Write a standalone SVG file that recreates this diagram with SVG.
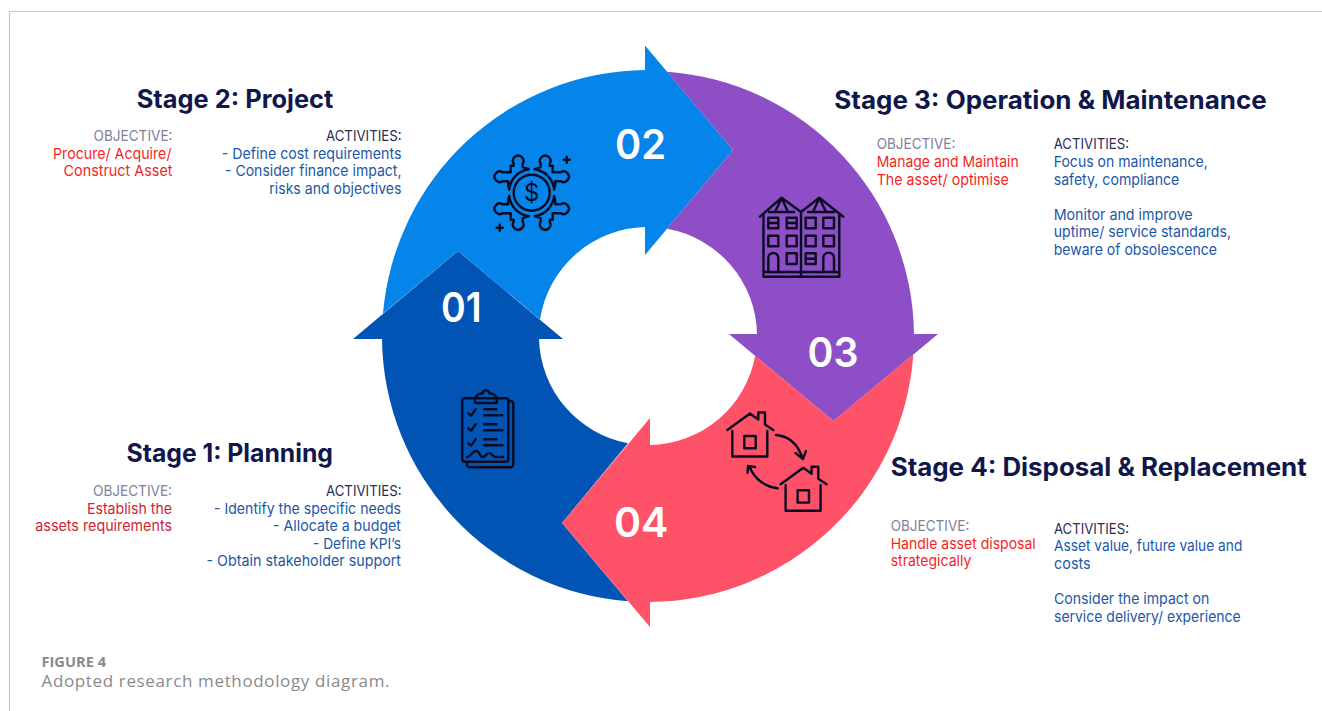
<svg xmlns="http://www.w3.org/2000/svg" width="1322" height="711" viewBox="0 0 1322 711">
<defs>
<style>
text{font-family:Inter,"Noto Sans","Liberation Sans",sans-serif}
.t{font-size:25px;font-weight:700;fill:#10174a}
.o{font-size:15px;fill:#7d8299}
.a{font-size:15px;fill:#2b2d55}
.r{font-size:15px;fill:#f41f26}
.d{font-size:15px;fill:#cc1f33}
.b{font-size:15px;fill:#1c57a6}
.e{text-anchor:end}
.n{font-size:41px;font-weight:600;fill:#fff}
.i{fill:none;stroke:#0b0b22;stroke-width:2.4;stroke-linecap:round;stroke-linejoin:round}
</style>
<path id="piece" d="M-3 -23.5L-9 -25.5V-29A5.3 5.3 0 1 0 -18 -29V-27H-21V-20.5H-29A5.3 5.3 0 1 0 -29 -11.5H-23.5V-8L-22.5 -3A22.8 22.8 0 0 1 -3 -23.5Z"/>
<g id="house"><path d="M727.3 430L750 413.5L758.3 419.5V412.5H765V424.5L773.3 430"/><path d="M732.3 431V456.5H767.3V431"/><rect x="744.3" y="436" width="11.4" height="12.3"/></g>
</defs>
<rect width="1322" height="711" fill="#fff"/>
<path d="M9.5 711V11.5H1322" fill="none" stroke="#c8c8c8" stroke-width="1.2"/>
<g id="segment-01"><path fill="#0254b4" d="M382 339L353 339L458 251L563 339L539 339A109 109 0 0 0 628 443.2L562 523L628 601.2A266 266 0 0 1 382 339Z"/>
<text class="n" x="441" y="322" textLength="40.5" lengthAdjust="spacingAndGlyphs">01</text>
<g class="i"><path d="M467 461.7V464a3 3 0 0 0 3 3.3H510.3a3 3 0 0 0 3-3V404a3 3 0 0 0 -3-3H508.3"/><rect x="462.3" y="398.3" width="46" height="63.4" rx="2.5"/><path d="M475 403H496.7C498 397 494 393 489.5 393.5C488 389 484 389 482.5 393.5C477 393 474 398 475 403Z"/><path d="M468.3 413.3L471 415.7L475.7 409.3M468.3 428.3L471 430.7L475.7 424.3M468.3 443.3L471 445.7L475.7 439.3M484.3 409.3H496.7M484.3 415.3H502.3M484.3 424.3H496.7M484.3 430.3H502.3M484.3 439.3H496.7M484.3 445.3H502.3"/><path d="M467 457C471 457 472 451 476 451C481 451 479 458 483 457C487 456 487 452 490 453C492 454 493 457 496 457H503"/></g></g>
<g id="segment-02"><path fill="#0584ea" d="M383 313.4A266 266 0 0 1 645 70L645 45.6L733 150L645 255L645 227A109 109 0 0 0 540 319.5L458 251Z"/>
<text class="n" x="615" y="158.5" textLength="51" lengthAdjust="spacingAndGlyphs">02</text>
<g class="i" transform="translate(531.7 192.7)"><circle r="18"/><use href="#piece"/><use href="#piece" transform="scale(-1 1)"/><use href="#piece" transform="scale(1 -1)"/><use href="#piece" transform="scale(-1 -1)"/><path d="M35 -36V-30M32 -33H38M-32 32V38M-35 35H-29"/></g>
<text x="531.7" y="201" text-anchor="middle" font-size="24" fill="#0b0b22">$</text></g>
<g id="segment-03"><path fill="#8e4ec5" d="M667 71.7A266 266 0 0 1 914 334L938 334L833.5 421L729 334L757 334A109 109 0 0 0 667 228.7L733 150Z"/>
<text class="n" x="807.5" y="366.5" textLength="51" lengthAdjust="spacingAndGlyphs">03</text>
<g class="i"><path d="M760 216.7L781.7 197.7L801 212L819.3 197.7L843.3 216.7M769 212H794M808 212H834M775 212L781.7 198L788 212M813 212L819.3 198L826 212M763.5 214V276.7H839.3V214M801 212V276.7M763.5 272H839.3"/><path d="M768.3 217.7h10v10.6h-10zM786.7 217.7h10v10.6h-10zM805.7 217.7h10v10.6h-10zM823.3 217.7h10.7v10.6h-10.7zM768.3 235.7h10v10.6h-10zM786.7 235.7h10v10.6h-10zM805.7 235.7h10v10.6h-10zM823.3 235.7h10.7v10.6h-10.7zM786.7 253.3h10v10.7h-10zM805.7 253.3h10v10.7h-10zM768.3 223H778.3M786.7 223H796.7M805.7 258.7H815.7M768.3 272V258a5 5 0 0 1 10 0V272M823.3 272V258a5.3 5.3 0 0 1 10.7 0V272"/></g></g>
<g id="segment-04"><path fill="#fe5268" d="M913.3 354.6A266 266 0 0 1 650 602L650 627L562 523L650 418L650 445A109 109 0 0 0 755.2 355.8L833.5 421Z"/>
<text class="n" x="614" y="536.5" textLength="54.5" lengthAdjust="spacingAndGlyphs">04</text>
<g class="i"><use href="#house"/><use href="#house" transform="translate(53.3 54.3)"/><path d="M776 435C790 436 798 445 802.5 458M795.5 453L803 459L806 451M777.7 488.3C765 487 755 479 750 468M747.5 473L748 466L755 467"/></g></g>
<g id="stage-2">
<text class="t" x="136.7" y="108" textLength="196.6" lengthAdjust="spacingAndGlyphs">Stage 2: Project</text>
<text class="o e" x="172.5" y="141" textLength="79" lengthAdjust="spacingAndGlyphs">OBJECTIVE:</text>
<text class="r e" x="171.5" y="158.7" textLength="118.5" lengthAdjust="spacingAndGlyphs">Procure/ Acquire/</text>
<text class="r e" x="172.5" y="176" textLength="109" lengthAdjust="spacingAndGlyphs">Construct Asset</text>
<text class="a e" x="401.5" y="141" textLength="75.5" lengthAdjust="spacingAndGlyphs">ACTIVITIES:</text>
<text class="b e" x="401.5" y="158.7" textLength="179.8" lengthAdjust="spacingAndGlyphs">- Define cost requirements</text>
<text class="b e" x="401.5" y="176" textLength="176.5" lengthAdjust="spacingAndGlyphs">- Consider finance impact,</text>
<text class="b e" x="401.5" y="193.7" textLength="132.2" lengthAdjust="spacingAndGlyphs">risks and objectives</text>
</g>
<g id="stage-1">
<text class="t" x="126.5" y="462" textLength="206.5" lengthAdjust="spacingAndGlyphs">Stage 1: Planning</text>
<text class="o e" x="172" y="496.3" textLength="79" lengthAdjust="spacingAndGlyphs">OBJECTIVE:</text>
<text class="d e" x="172" y="514" textLength="85" lengthAdjust="spacingAndGlyphs">Establish the</text>
<text class="d e" x="172" y="531.3" textLength="136.7" lengthAdjust="spacingAndGlyphs">assets requirements</text>
<text class="a e" x="401.5" y="496.3" textLength="75.5" lengthAdjust="spacingAndGlyphs">ACTIVITIES:</text>
<text class="b e" x="401" y="514" textLength="187" lengthAdjust="spacingAndGlyphs">- Identify the specific needs</text>
<text class="b e" x="401" y="531.3" textLength="128" lengthAdjust="spacingAndGlyphs">- Allocate a budget</text>
<text class="b e" x="401" y="549" textLength="88" lengthAdjust="spacingAndGlyphs">- Define KPI’s</text>
<text class="b e" x="401" y="566.3" textLength="194.5" lengthAdjust="spacingAndGlyphs">- Obtain stakeholder support</text>
</g>
<g id="stage-3">
<text class="t" x="834.3" y="109.3" textLength="432.4" lengthAdjust="spacingAndGlyphs">Stage 3: Operation &amp; Maintenance</text>
<text class="o" x="876.7" y="149" textLength="78.6" lengthAdjust="spacingAndGlyphs">OBJECTIVE:</text>
<text class="r" x="876.7" y="167" textLength="142" lengthAdjust="spacingAndGlyphs">Manage and Maintain</text>
<text class="r" x="876.7" y="184.5" textLength="132" lengthAdjust="spacingAndGlyphs">The asset/ optimise</text>
<text class="a" x="1053.7" y="149" textLength="75.3" lengthAdjust="spacingAndGlyphs">ACTIVITIES:</text>
<text class="b" x="1053.7" y="167" textLength="154" lengthAdjust="spacingAndGlyphs">Focus on maintenance,</text>
<text class="b" x="1053.7" y="184.5" textLength="125.6" lengthAdjust="spacingAndGlyphs">safety, compliance</text>
<text class="b" x="1053.7" y="219.7" textLength="139" lengthAdjust="spacingAndGlyphs">Monitor and improve</text>
<text class="b" x="1053.7" y="237.3" textLength="177.3" lengthAdjust="spacingAndGlyphs">uptime/ service standards,</text>
<text class="b" x="1053.7" y="255" textLength="163.3" lengthAdjust="spacingAndGlyphs">beware of obsolescence</text>
</g>
<g id="stage-4">
<text class="t" x="890.7" y="475.7" textLength="416" lengthAdjust="spacingAndGlyphs">Stage 4: Disposal &amp; Replacement</text>
<text class="o" x="890.7" y="531" textLength="78.6" lengthAdjust="spacingAndGlyphs">OBJECTIVE:</text>
<text class="r" x="890.7" y="548.7" textLength="145" lengthAdjust="spacingAndGlyphs">Handle asset disposal</text>
<text class="r" x="890.7" y="566" textLength="80.6" lengthAdjust="spacingAndGlyphs">strategically</text>
<text class="a" x="1054" y="533.7" textLength="75" lengthAdjust="spacingAndGlyphs">ACTIVITIES:</text>
<text class="b" x="1054" y="551.3" textLength="188.3" lengthAdjust="spacingAndGlyphs">Asset value, future value and</text>
<text class="b" x="1054" y="569" textLength="36.7" lengthAdjust="spacingAndGlyphs">costs</text>
<text class="b" x="1054" y="604.3" textLength="155.3" lengthAdjust="spacingAndGlyphs">Consider the impact on</text>
<text class="b" x="1054" y="622" textLength="186.7" lengthAdjust="spacingAndGlyphs">service delivery/ experience</text>
</g>
<g id="caption">
<text x="41.5" y="667" font-size="14" font-weight="700" fill="#8a8a8a" style="font-family:'Open Sans','Noto Sans',sans-serif" textLength="64.5" lengthAdjust="spacingAndGlyphs">FIGURE 4</text>
<text x="41.5" y="686.7" font-size="17" fill="#8a8a8a" style="font-family:'Open Sans','Noto Sans',sans-serif" textLength="348">Adopted research methodology diagram.</text>
</g>
</svg>
